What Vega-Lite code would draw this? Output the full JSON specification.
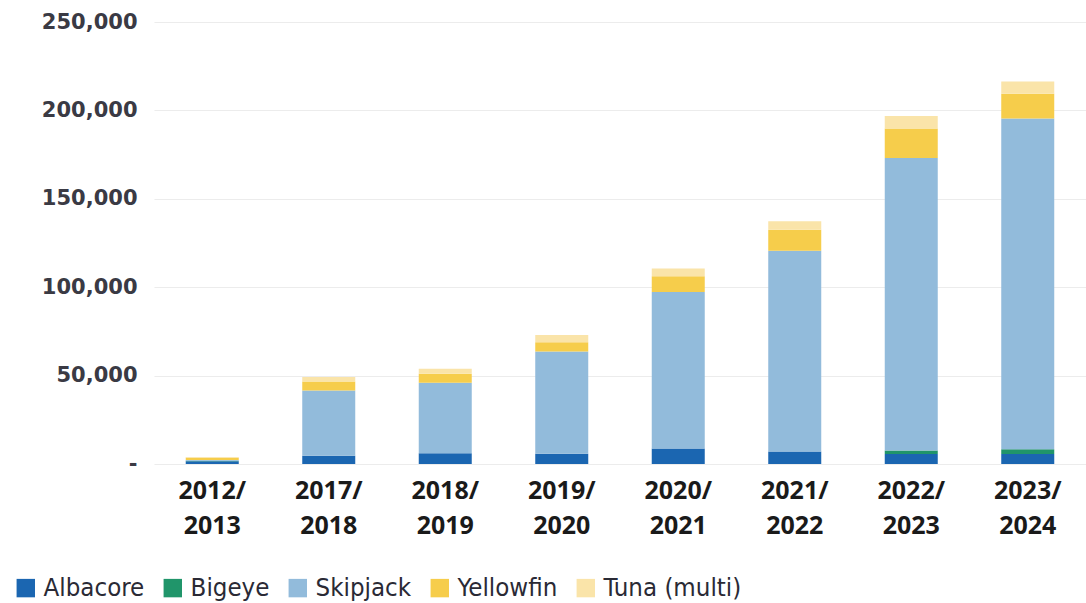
{
  "$schema": "https://vega.github.io/schema/vega-lite/v6.json",
  "autosize": "none",
  "width": 932,
  "height": 442,
  "padding": {"left": 154, "top": 22, "right": 0, "bottom": 139},
  "background": "white",
  "config": {"view": {"stroke": null}},
  "data": {"values": [
    {"season": "2012/2013", "species": "Albacore", "tonnes": 1500},
    {"season": "2012/2013", "species": "Bigeye", "tonnes": 300},
    {"season": "2012/2013", "species": "Skipjack", "tonnes": 500},
    {"season": "2012/2013", "species": "Yellowfin", "tonnes": 1300},
    {"season": "2012/2013", "species": "Tuna (multi)", "tonnes": 400},
    {"season": "2017/2018", "species": "Albacore", "tonnes": 4700},
    {"season": "2017/2018", "species": "Bigeye", "tonnes": 0},
    {"season": "2017/2018", "species": "Skipjack", "tonnes": 36900},
    {"season": "2017/2018", "species": "Yellowfin", "tonnes": 5100},
    {"season": "2017/2018", "species": "Tuna (multi)", "tonnes": 2500},
    {"season": "2018/2019", "species": "Albacore", "tonnes": 6100},
    {"season": "2018/2019", "species": "Bigeye", "tonnes": 0},
    {"season": "2018/2019", "species": "Skipjack", "tonnes": 39900},
    {"season": "2018/2019", "species": "Yellowfin", "tonnes": 5100},
    {"season": "2018/2019", "species": "Tuna (multi)", "tonnes": 2800},
    {"season": "2019/2020", "species": "Albacore", "tonnes": 5800},
    {"season": "2019/2020", "species": "Bigeye", "tonnes": 0},
    {"season": "2019/2020", "species": "Skipjack", "tonnes": 57900},
    {"season": "2019/2020", "species": "Yellowfin", "tonnes": 5100},
    {"season": "2019/2020", "species": "Tuna (multi)", "tonnes": 4200},
    {"season": "2020/2021", "species": "Albacore", "tonnes": 8800},
    {"season": "2020/2021", "species": "Bigeye", "tonnes": 0},
    {"season": "2020/2021", "species": "Skipjack", "tonnes": 88500},
    {"season": "2020/2021", "species": "Yellowfin", "tonnes": 8900},
    {"season": "2020/2021", "species": "Tuna (multi)", "tonnes": 4400},
    {"season": "2021/2022", "species": "Albacore", "tonnes": 7000},
    {"season": "2021/2022", "species": "Bigeye", "tonnes": 0},
    {"season": "2021/2022", "species": "Skipjack", "tonnes": 113600},
    {"season": "2021/2022", "species": "Yellowfin", "tonnes": 11900},
    {"season": "2021/2022", "species": "Tuna (multi)", "tonnes": 4800},
    {"season": "2022/2023", "species": "Albacore", "tonnes": 5700},
    {"season": "2022/2023", "species": "Bigeye", "tonnes": 1900},
    {"season": "2022/2023", "species": "Skipjack", "tonnes": 165500},
    {"season": "2022/2023", "species": "Yellowfin", "tonnes": 16600},
    {"season": "2022/2023", "species": "Tuna (multi)", "tonnes": 7200},
    {"season": "2023/2024", "species": "Albacore", "tonnes": 5700},
    {"season": "2023/2024", "species": "Bigeye", "tonnes": 2700},
    {"season": "2023/2024", "species": "Skipjack", "tonnes": 187000},
    {"season": "2023/2024", "species": "Yellowfin", "tonnes": 14000},
    {"season": "2023/2024", "species": "Tuna (multi)", "tonnes": 7000}
  ]},
  "transform": [
    {"calculate": "indexof(['Albacore','Bigeye','Skipjack','Yellowfin','Tuna (multi)'], datum.species)", "as": "ord"}
  ],
  "mark": {"type": "bar"},
  "encoding": {
    "x": {
      "field": "season", "type": "nominal", "sort": null,
      "scale": {"paddingInner": 0.545, "paddingOuter": 0.2725},
      "axis": {
        "title": null, "domain": false, "ticks": false, "labelAngle": 0,
        "labelExpr": "[slice(datum.value,0,5), slice(datum.value,5)]",
        "labelFont": "Open Sans", "labelFontSize": 25, "labelFontWeight": "bold",
        "labelColor": "#1a1a1a", "labelPadding": 14, "labelLineHeight": 35,
        "labelBaseline": "top"
      }
    },
    "y": {
      "field": "tonnes", "type": "quantitative", "stack": "zero",
      "scale": {"domain": [0, 250000], "nice": false},
      "axis": {
        "title": null, "domain": false, "ticks": false,
        "values": [0, 50000, 100000, 150000, 200000, 250000],
        "labelExpr": "datum.value === 0 ? '-' : format(datum.value, ',')",
        "labelFont": "DejaVu Sans", "labelFontSize": 21, "labelFontWeight": "bold",
        "labelColor": "#3a3a44", "labelPadding": 17,
        "gridColor": "#ececec", "gridWidth": 1.2
      }
    },
    "color": {
      "field": "species", "type": "nominal",
      "scale": {
        "domain": ["Albacore", "Bigeye", "Skipjack", "Yellowfin", "Tuna (multi)"],
        "range": ["#1b66b1", "#20956a", "#92bbdb", "#f6cd4b", "#fae4a9"]
      },
      "legend": {
        "title": null, "orient": "none", "direction": "horizontal",
        "legendX": -141, "legendY": 553,
        "symbolType": "square", "symbolSize": 340, "symbolStrokeWidth": 0,
        "labelFont": "DejaVu Sans Condensed", "labelFontSize": 25.6,
        "labelColor": "#2a2a35", "columnPadding": 15, "labelOffset": 5
      }
    },
    "order": {"field": "ord", "type": "quantitative"}
  }
}
